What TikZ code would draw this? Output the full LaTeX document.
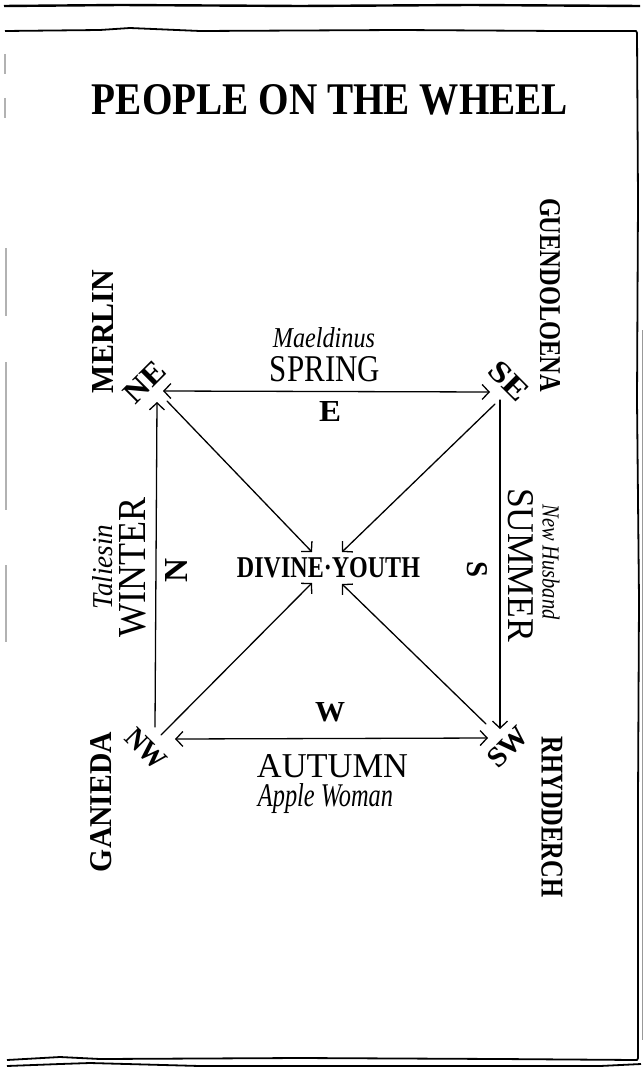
\documentclass[tikz,border=0pt]{standalone}
\usepackage{fontspec}
\setmainfont{Liberation Serif}
\usetikzlibrary{arrows.meta}
\newcommand{\fitto}[3]{\resizebox{#1pt}{#2pt}{#3}}
\newcommand{\fittot}[3]{\resizebox*{#1pt}{#2pt}{#3}}
\tikzset{
  lbl/.style={inner sep=0pt, outer sep=0pt, anchor=center},
  edge/.style={line width=1.3pt, line cap=round},
  arr/.style={edge, -{Straight Barb[length=7pt,width=15pt,line width=1.3pt]}},
  darr/.style={edge, {Straight Barb[length=7pt,width=15pt,line width=1.3pt]}-{Straight Barb[length=7pt,width=15pt,line width=1.3pt]}},
  frame/.style={line width=1.8pt, line join=round},
  faint/.style={line width=1.2pt, draw=black!30},
}
\begin{document}
\begin{tikzpicture}[x=1pt,y=-1pt]
\useasboundingbox (0,0) rectangle (643,1086);
% frame
\draw[frame, line width=2.4pt] (4,6) -- (120,5) -- (300,6) -- (470,5) -- (640,6);
\draw[frame] (5,31) -- (100,30) -- (130,28) -- (200,31) -- (400,30) -- (560,31) -- (636,31) -- (637,33)
  -- (638,200) -- (637,400) -- (639,600) -- (638,800) -- (638,1058) -- (637,1060)
  -- (500,1059) -- (300,1058) -- (100,1059) -- (60,1057) -- (7,1060);
\draw[frame] (7,1066) -- (60,1064) -- (90,1063) -- (200,1066) -- (400,1066) -- (600,1066) -- (641,1064);
\draw[faint] (5,54) -- (5,74);
\draw[faint] (5,98) -- (5,118);
\draw[faint] (6,248) -- (6,316);
\draw[faint] (6,362) -- (6,510);
\draw[faint] (6,565) -- (6,642);
\draw[line width=0.8pt, draw=black!40] (642,330) -- (642,1040);

% title
\node[lbl] (title) at (330,100) {\fitto{476}{30}{\bfseries PEOPLE ON THE WHEEL}};

% side names
\node[lbl, rotate=90] (merlin) at (102.5,331.5) {\fitto{123}{21}{\bfseries MERLIN}};
\node[lbl, rotate=-90] (guen) at (550,295) {\fitto{194}{20}{\bfseries GUENDOLOENA}};
\node[lbl, rotate=90] (gan) at (101.5,802) {\fitto{140}{21}{\bfseries GANIEDA}};
\node[lbl, rotate=-90] (rhy) at (552,817) {\fitto{161}{21}{\bfseries RHYDDERCH}};

% seasons
\node[lbl] (mael) at (324,338) {\fitto{102}{20}{\itshape Maeldinus}};
\node[lbl] (spring) at (325,369.5) {\fitto{110}{25}{SPRING}};
\node[lbl] (e) at (330,411) {\fitto{22}{20}{\bfseries E}};
\node[lbl, rotate=90] (tal) at (103,567) {\fitto{85}{20}{\itshape Taliesin}};
\node[lbl, rotate=90] (winter) at (133,567) {\fitto{140}{26}{WINTER}};
\node[lbl, rotate=90] (n) at (176,570) {\fitto{24}{22}{\bfseries N}};
\node[lbl] (dy) at (328.5,568) {\fitto{183}{20}{\bfseries DIVINE·YOUTH}};
\node[lbl, rotate=-90] (s) at (477,569) {\fitto{16}{20}{\bfseries S}};
\node[lbl, rotate=-90] (summer) at (520.5,565) {\fitto{154}{25}{SUMMER}};
\node[lbl, rotate=-90] (husb) at (551,562) {\fitto{115}{17}{\itshape New Husband}};
\node[lbl] (w) at (330,712) {\fitto{30}{19}{\bfseries W}};
\node[lbl] (autumn) at (332.5,766) {\fitto{151}{23}{AUTUMN}};
\node[lbl] (apple) at (325.5,799) {\fittot{135}{30}{\itshape Apple Woman}};

% corner labels
\node[lbl, rotate=45] (ne) at (145,382) {\fitto{46}{20}{\bfseries NE}};
\node[lbl, rotate=-45] (se) at (509,381) {\fitto{44}{20}{\bfseries SE}};
\node[lbl, rotate=-45] (nw) at (146,749) {\fitto{46}{19}{\bfseries NW}};
\node[lbl, rotate=45] (sw) at (508,747) {\fitto{46}{19}{\bfseries SW}};

% endpoints
\coordinate (neH) at (163,391);
\coordinate (seH) at (490,392);
\coordinate (neV) at (157,402);
\coordinate (nwV) at (155,727);
\coordinate (seV) at (500,400);
\coordinate (swV) at (500,729);
\coordinate (nwH) at (175,739);
\coordinate (swH) at (488,738);
\coordinate (neD) at (167,401);
\coordinate (seD) at (495,404);
\coordinate (nwD) at (161,735);
\coordinate (swD) at (486,724);
\coordinate (dyNW) at (312,552);
\coordinate (dyNE) at (342,552);
\coordinate (dySW) at (312,583);
\coordinate (dySE) at (342,584);

% connectors
\draw[darr] (neH) -- (seH);
\draw[arr] (nwV) -- (neV);
\draw[arr] (seV) -- (swV);
\draw[darr] (nwH) -- (swH);
\draw[arr] (neD) -- (dyNW);
\draw[arr] (seD) -- (dyNE);
\draw[arr] (nwD) -- (dySW);
\draw[arr] (swD) -- (dySE);
\end{tikzpicture}
\end{document}
